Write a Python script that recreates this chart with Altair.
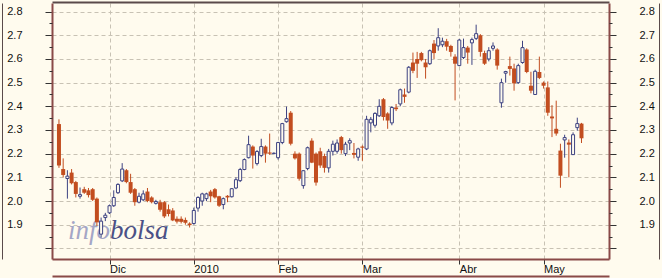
import altair as alt
import pandas as pd

# ---- data (trading-day index 0..124) ----
opens = [2.325, 2.135, 2.095, 2.12, 2.08, 2.02, 2.05, 2.045, 2.05, 2.01,
         1.86, 1.93, 1.95, 1.98, 2.035, 2.085, 2.13, 2.08, 2.05, 1.995,
         2.005, 2.04, 2.015, 1.99, 1.995, 1.995, 1.965, 1.96, 1.925, 1.925,
         1.92, 1.905, 1.905, 1.97, 2.0, 2.01, 2.04, 2.05, 2.02, 1.985,
         2.022, 2.018, 2.055, 2.086, 2.133, 2.183, 2.23, 2.158, 2.192, 2.23,
         2.205, 2.2, 2.183, 2.247, 2.335, 2.373, 2.2, 2.2, 2.065, 2.137,
         2.255, 2.2, 2.21, 2.19, 2.14, 2.21, 2.21, 2.27, 2.2, 2.245,
         2.203, 2.185, 2.23, 2.22, 2.33, 2.32, 2.36, 2.43, 2.37, 2.33,
         2.395, 2.41, 2.45, 2.46, 2.585, 2.6, 2.625, 2.585, 2.58, 2.665,
         2.655, 2.66, 2.675, 2.655, 2.61, 2.572, 2.606, 2.648, 2.668, 2.687,
         2.7, 2.625, 2.6, 2.645, 2.64, 2.415, 2.54, 2.57, 2.56, 2.5,
         2.585, 2.64, 2.487, 2.45, 2.545, 2.5, 2.48, 2.357, 2.305, 2.213,
         2.258, 2.247, 2.196, 2.31, 2.327]
highs = [2.345, 2.18, 2.13, 2.135, 2.085, 2.057, 2.06, 2.055, 2.055, 2.015,
         1.93, 1.95, 1.985, 2.045, 2.075, 2.16, 2.135, 2.115, 2.055, 2.035,
         2.045, 2.055, 2.02, 2.005, 2.005, 2.0, 1.985, 1.97, 1.935, 1.935,
         1.93, 1.91, 1.972, 2.02, 2.035, 2.035, 2.047, 2.055, 2.022, 2.015,
         2.025, 2.055, 2.1, 2.14, 2.18, 2.276, 2.235, 2.215, 2.263, 2.235,
         2.285, 2.205, 2.25, 2.33, 2.399, 2.38, 2.21, 2.205, 2.13, 2.23,
         2.265, 2.205, 2.225, 2.2, 2.22, 2.255, 2.26, 2.275, 2.25, 2.265,
         2.245, 2.225, 2.235, 2.36, 2.355, 2.375, 2.43, 2.435, 2.375, 2.4,
         2.41, 2.475, 2.475, 2.57, 2.627, 2.63, 2.63, 2.6, 2.64, 2.68,
         2.73, 2.69, 2.685, 2.66, 2.62, 2.685, 2.686, 2.655, 2.69, 2.745,
         2.705, 2.635, 2.65, 2.67, 2.645, 2.517, 2.55, 2.61, 2.58, 2.58,
         2.677, 2.645, 2.546, 2.555, 2.61, 2.505, 2.505, 2.405, 2.424, 2.242,
         2.28, 2.26, 2.29, 2.352, 2.33]
lows = [2.14, 2.10, 2.01, 2.07, 2.015, 2.01, 2.03, 2.015, 2.0, 1.895,
        1.845, 1.915, 1.945, 1.975, 2.03, 2.08, 2.075, 2.03, 1.98, 1.99,
        2.0, 1.995, 1.99, 1.985, 1.955, 1.928, 1.935, 1.915, 1.905, 1.905,
        1.90, 1.888, 1.90, 1.955, 1.98, 2.0, 1.995, 2.01, 1.975, 1.965,
        1.995, 2.015, 2.05, 2.08, 2.13, 2.18, 2.137, 2.15, 2.185, 2.162,
        2.195, 2.198, 2.175, 2.24, 2.331, 2.235, 2.175, 2.086, 2.052, 2.13,
        2.16, 2.065, 2.14, 2.12, 2.12, 2.192, 2.2, 2.2, 2.19, 2.215,
        2.18, 2.17, 2.17, 2.215, 2.29, 2.31, 2.355, 2.34, 2.305, 2.32,
        2.38, 2.4, 2.415, 2.455, 2.54, 2.52, 2.59, 2.517, 2.575, 2.6,
        2.635, 2.65, 2.635, 2.61, 2.425, 2.57, 2.6, 2.58, 2.575, 2.68,
        2.61, 2.575, 2.59, 2.635, 2.555, 2.394, 2.5, 2.53, 2.466, 2.495,
        2.58, 2.54, 2.455, 2.448, 2.515, 2.475, 2.36, 2.27, 2.276, 2.056,
        2.183, 2.1, 2.195, 2.297, 2.245]
closes = [2.15, 2.11, 2.105, 2.075, 2.03, 2.027, 2.035, 2.025, 2.005, 1.91,
          1.915, 1.94, 1.98, 2.015, 2.07, 2.135, 2.08, 2.035, 1.995, 2.02,
          2.03, 2.0, 1.995, 1.998, 1.963, 1.935, 1.945, 1.918, 1.913, 1.912,
          1.908, 1.898, 1.96, 2.015, 2.03, 2.03, 2.02, 2.015, 1.98, 2.01,
          2.015, 2.052, 2.09, 2.133, 2.175, 2.238, 2.192, 2.209, 2.23, 2.2,
          2.2, 2.202, 2.247, 2.327, 2.348, 2.242, 2.18, 2.094, 2.128, 2.225,
          2.162, 2.078, 2.15, 2.14, 2.21, 2.24, 2.245, 2.215, 2.24, 2.255,
          2.195, 2.22, 2.225, 2.345, 2.345, 2.37, 2.4, 2.355, 2.34, 2.395,
          2.388, 2.47, 2.44, 2.565, 2.55, 2.58, 2.595, 2.565, 2.635, 2.625,
          2.69, 2.675, 2.652, 2.63, 2.58, 2.68, 2.648, 2.627, 2.682, 2.707,
          2.63, 2.58, 2.635, 2.655, 2.572, 2.5, 2.547, 2.558, 2.497, 2.572,
          2.648, 2.545, 2.466, 2.548, 2.52, 2.487, 2.373, 2.349, 2.285, 2.107,
          2.268, 2.238, 2.28, 2.327, 2.265]

month_idx = [12, 32, 52, 72, 95, 115]
month_labels = ["Dic", "2010", "Feb", "Mar", "Abr", "May"]
y_major = [1.8, 1.9, 2.0, 2.1, 2.2, 2.3, 2.4, 2.5, 2.6, 2.7, 2.8]
y_minor = [1.85, 1.95, 2.05, 2.15, 2.25, 2.35, 2.45, 2.55, 2.65, 2.75]

df = pd.DataFrame({"i": list(range(len(opens))), "open": opens, "high": highs,
                   "low": lows, "close": closes})

BG = "#fffbee"
UP = "#3d4282"
DOWN = "#c24d1f"
FRAME = "#8a4a48"
OUTER = "#5a4a4a"
GRID = "#c8c2b4"
FONT = "Liberation Sans"

XDOM = [-0.466, 129.34]
YDOM = [1.755, 2.8365]
xs = alt.Scale(domain=XDOM, nice=False, zero=False)
ys = alt.Scale(domain=YDOM, nice=False, zero=False)

x_expr = " : ".join(f"datum.value == {v} ? '{l}'" for v, l in zip(month_idx, month_labels)) + " : ''"
y_expr = "abs(datum.value - 1.8) < 0.001 ? '' : format(datum.value, '.1f')"

lab = dict(labelFont=FONT, labelFontSize=11, labelColor="#111", title=None)

x_main = alt.Axis(orient="bottom", values=month_idx, labelExpr=x_expr, tickSize=5,
                  tickColor="#333", domainColor=FRAME, domainWidth=2, grid=True,
                  gridColor=GRID, gridDash=[4, 3], labelAlign="left", labelBaseline="top",
                  labelPadding=-1, labelOffset=0, labelFlush=False, labelOverlap=False, **lab)
x_border = alt.Axis(orient="bottom", offset=17, domainColor=FRAME, domainWidth=2,
                    ticks=False, labels=False, grid=False, title=None)
x_top = alt.Axis(orient="top", offset=1, domainColor=OUTER, domainWidth=2,
                 ticks=False, labels=False, grid=False, title=None)

y_left = alt.Axis(orient="left", values=y_major, labelExpr=y_expr, tickSize=7, tickColor="#333",
                  labelPadding=23, domainColor=FRAME, domainWidth=2, grid=True, gridColor=GRID,
                  gridDash=[4, 3], labelAlign="right", labelFlush=False, labelOverlap=False, **lab)
y_left_minor = alt.Axis(orient="left", values=y_minor, tickSize=3, tickColor="#333",
                        labels=False, domain=False, grid=False, title=None)
y_right = alt.Axis(orient="right", values=y_major, labelExpr=y_expr, tickSize=7, tickColor="#333",
                   labelPadding=23, domainColor=FRAME, domainWidth=2, grid=False,
                   labelAlign="left", labelFlush=False, labelOverlap=False, **lab)
y_right_minor = alt.Axis(orient="right", values=y_minor, tickSize=3, tickColor="#333",
                         labels=False, domain=False, grid=False, title=None)
y_left_outer = alt.Axis(orient="left", offset=50, domainColor=OUTER, domainWidth=1,
                        ticks=False, labels=False, grid=False, title=None)
y_right_outer = alt.Axis(orient="right", offset=50, domainColor=OUTER, domainWidth=1,
                         ticks=False, labels=False, grid=False, title=None)

base = alt.Chart(df)
up_f = "datum.close >= datum.open"
down_f = "datum.close < datum.open"

wick_up = base.transform_filter(up_f).mark_rule(color=UP, strokeWidth=1).encode(
    x=alt.X("i:Q", scale=xs, axis=x_main),
    y=alt.Y("low:Q", scale=ys, axis=y_left),
    y2="high:Q")
wick_down = base.transform_filter(down_f).mark_rule(color=DOWN, strokeWidth=1).encode(
    x=alt.X("i:Q", scale=xs, axis=x_border),
    y=alt.Y("low:Q", scale=ys, axis=y_left_minor),
    y2="high:Q")
frame_l = base.mark_rule(opacity=0).encode(
    x=alt.X("i:Q", scale=xs, axis=None),
    y=alt.Y("low:Q", scale=ys, axis=y_left_outer))
frame_r = base.mark_rule(opacity=0).encode(
    x=alt.X("i:Q", scale=xs, axis=None),
    y=alt.Y("low:Q", scale=ys, axis=y_right_outer))
body_down = base.transform_filter(down_f).mark_bar(color=DOWN, size=4).encode(
    x=alt.X("i:Q", scale=xs, axis=x_top),
    y=alt.Y("open:Q", scale=ys, axis=y_right),
    y2="close:Q")
body_up = base.transform_filter(up_f).mark_bar(fill=BG, stroke=UP, strokeWidth=1, size=3).encode(
    x=alt.X("i:Q", scale=xs, axis=None),
    y=alt.Y("open:Q", scale=ys, axis=y_right_minor),
    y2="close:Q")

wm1 = alt.Chart(pd.DataFrame({"w": ["info"]})).mark_text(
    font="Liberation Serif", fontStyle="italic", fontSize=27, color="#a4a6c6",
    align="left", baseline="alphabetic").encode(x=alt.value(16), y=alt.value(236), text="w:N")
wm2 = alt.Chart(pd.DataFrame({"w": ["bolsa"]})).mark_text(
    font="Liberation Serif", fontStyle="italic", fontSize=27, color="#4b5186",
    align="left", baseline="alphabetic").encode(x=alt.value(58), y=alt.value(236), text="w:N")

chart = alt.layer(wm1, wm2, frame_l, frame_r, wick_up, wick_down, body_down, body_up).resolve_axis(
    x="independent", y="independent"
).properties(
    width=557, height=256, background=BG,
    padding={"left": 52, "top": 3, "right": 53, "bottom": 19},
    autosize=alt.AutoSizeParams(type="none")
).configure_view(stroke=None)

chart.save("out.html", embed_options={"renderer": "svg", "actions": False})
